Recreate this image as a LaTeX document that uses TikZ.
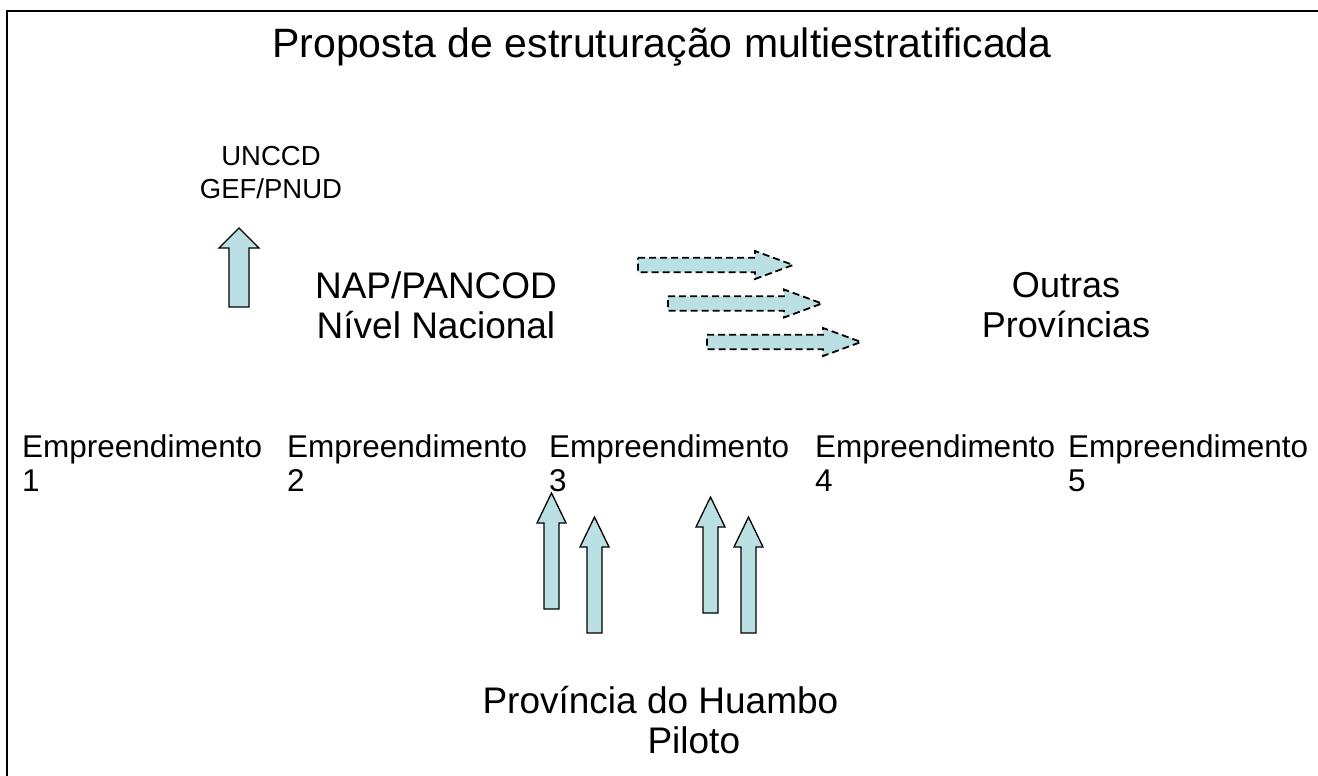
\documentclass[tikz,border=0pt]{standalone}
\usepackage{fontspec}
\setmainfont{Liberation Sans}

\definecolor{arrowblue}{RGB}{187,224,227}

\begin{document}

\begin{tikzpicture}[x = 1pt, y = -1pt,
	heading/.style = {font = \fontsize{41}{49}\selectfont},
	level/.style = {font = \fontsize{37}{40}\selectfont, align = center},
	donor/.style = {font = \fontsize{27.5}{33}\selectfont, align = center},
	venture/.style = {font = \fontsize{31.5}{34}\selectfont, align = left, anchor = west, inner sep = 0},
	block/.style = {draw, fill = arrowblue, line width = 1.3pt},
	flow/.style = {block, line width = 1.8pt, dash pattern = on 7pt off 4pt}]

% Definitions

\def\shaftw{7.5}
\def\headw{14.5}
\def\headl{30}

% up block arrow: x of shaft centre, y of tip, y of tail
\def\arrowup#1#2#3{
	\draw [block] (#1 - \shaftw, #3) -- (#1 - \shaftw, #2 + \headl) -- (#1 - \headw, #2 + \headl)
		-- (#1, #2) -- (#1 + \headw, #2 + \headl) -- (#1 + \shaftw, #2 + \headl) -- (#1 + \shaftw, #3) -- cycle;
}

% right block arrow: x of tail, y of centre, x of tip
\def\arrowright#1#2#3{
	\draw [flow] (#1, #2 - \shaftw) -- (#3 - \headl, #2 - \shaftw) -- (#3 - \headl, #2 - \headw)
		-- (#3, #2) -- (#3 - \headl, #2 + \headw) -- (#3 - \headl, #2 + \shaftw) -- (#1, #2 + \shaftw) -- cycle;
}

\useasboundingbox (0, 0) rectangle (1318, 776);

% Frame

\draw [line width = 1.8pt] (7, 776) -- (7, 11) -- (1318, 11);

% Title

\node [heading] (title) at (662, 47) {Proposta de estruturação multiestratificada};

% National level

\node [donor] (donors) at (271, 173) {UNCCD\\GEF/PNUD};
\node [level] (national) at (436, 305) {NAP/PANCOD\\Nível Nacional};
\node [level, font = \fontsize{36}{40}\selectfont] (others) at (1066, 305) {Outras\\Províncias};

\begin{scope}

	\def\shaftw{10}
	\def\headw{20}
	\def\headl{20}

	\arrowup{239}{228}{307}

\end{scope}

% Spreading to the other provinces

\begin{scope}

	\def\shaftw{7.25}
	\def\headw{14}
	\def\headl{38}

	\arrowright{638}{265}{793}
	\arrowright{668}{303.5}{822}
	\arrowright{707}{342}{861}

\end{scope}

% Ventures

\foreach \x [count = \i] in {22, 287, 549, 815, 1068}
	\node [venture] (venture-\i) at (\x, 463) {Empreendimento\\\i};

% Pilot province

\arrowup{551.5}{493}{609}
\arrowup{594.5}{517}{633}
\arrowup{710.5}{497}{613}
\arrowup{748.5}{517}{633}

\node [level, align = left, anchor = west] (pilot) at (479, 720) {Província do Huambo\\\hspace*{165pt}Piloto};

\end{tikzpicture}

\end{document}
